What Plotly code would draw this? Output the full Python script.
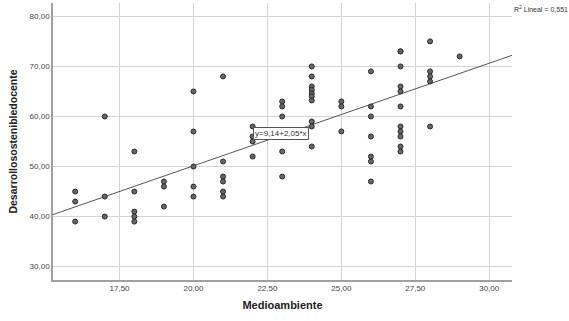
import plotly.graph_objects as go

# Data (Medioambiente, Desarrollosostenibledocente)
medio = (
    [16] * 3 + [17] * 3 + [18] * 5 + [19] * 3 + [20] * 5 + [21] * 6 +
    [22] * 4 + [23] * 5 + [24] * 10 + [25] * 3 + [26] * 7 + [27] * 11 +
    [28] * 5 + [29] * 1
)
desarrollo = (
    [45, 43, 39] +
    [60, 44, 40] +
    [53, 45, 41, 40, 39] +
    [47, 46, 42] +
    [65, 57, 50, 46, 44] +
    [68, 51, 48, 47, 45, 44] +
    [58, 56, 55, 52] +
    [63, 62, 60, 53, 48] +
    [70, 68, 66, 65.3, 64.6, 64, 63.2, 59, 58, 54] +
    [63, 62, 57] +
    [69, 62, 60, 56, 52, 51, 47] +
    [73, 73, 70, 66, 65, 62, 58, 57, 56, 54, 53] +
    [75, 69, 68, 67, 58] +
    [72]
)

intercept = 9.14
slope = 2.05
r2 = 0.551

x_range = [15.25, 30.77]
y_range = [27.33, 82.67]

x_ticks = [17.5, 20.0, 22.5, 25.0, 27.5, 30.0]
x_ticktext = ["17,50", "20,00", "22,50", "25,00", "27,50", "30,00"]
y_ticks = [30, 40, 50, 60, 70, 80]
y_ticktext = ["30,00", "40,00", "50,00", "60,00", "70,00", "80,00"]

fig = go.Figure()

fig.add_trace(go.Scatter(
    x=x_range,
    y=[intercept + slope * v for v in x_range],
    mode="lines",
    line=dict(color="#555555", width=1),
    hoverinfo="skip",
    showlegend=False,
))

fig.add_trace(go.Scatter(
    x=medio, y=desarrollo, mode="markers",
    marker=dict(size=5, color="#666666", line=dict(color="#2a2a2a", width=1)),
    showlegend=False,
))

fig.add_annotation(
    x=22.97, y=56.6, xref="x", yref="y",
    text="y=9,14+2,05*x", showarrow=False,
    font=dict(family="Liberation Sans, Arial", size=8, color="#333333"),
    bgcolor="white", bordercolor="#555555", borderwidth=1, borderpad=1,
)

fig.add_annotation(
    x=1.0, y=1.0, xref="paper", yref="paper",
    text="R<sup>2</sup> Lineal = 0,551",
    showarrow=False, xanchor="left", yanchor="top",
    font=dict(family="Liberation Sans, Arial", size=7, color="#333333"),
)

axis_common = dict(
    showgrid=True, gridcolor="#d4d4d4", gridwidth=1.3,
    showline=True, linecolor="#a0a0a0", linewidth=1.5,
    zeroline=False, ticks="",
    tickfont=dict(family="Liberation Sans, Arial", size=8, color="#444444"),
)

fig.update_xaxes(
    range=x_range, tickvals=x_ticks, ticktext=x_ticktext,
    title=dict(text="<b>Medioambiente</b>", standoff=9,
               font=dict(family="Liberation Sans, Arial", size=11, color="#222222")),
    **axis_common,
)
fig.update_yaxes(
    range=y_range, tickvals=y_ticks, ticktext=y_ticktext,
    title=dict(text="<b>Desarrollosostenibledocente</b>", standoff=10,
               font=dict(family="Liberation Sans, Arial", size=10.5, color="#222222")),
    **axis_common,
)

fig.update_layout(
    width=569, height=321,
    margin=dict(l=53, r=57, t=3, b=41),
    plot_bgcolor="white", paper_bgcolor="white",
)

fig.write_html("out.html")
